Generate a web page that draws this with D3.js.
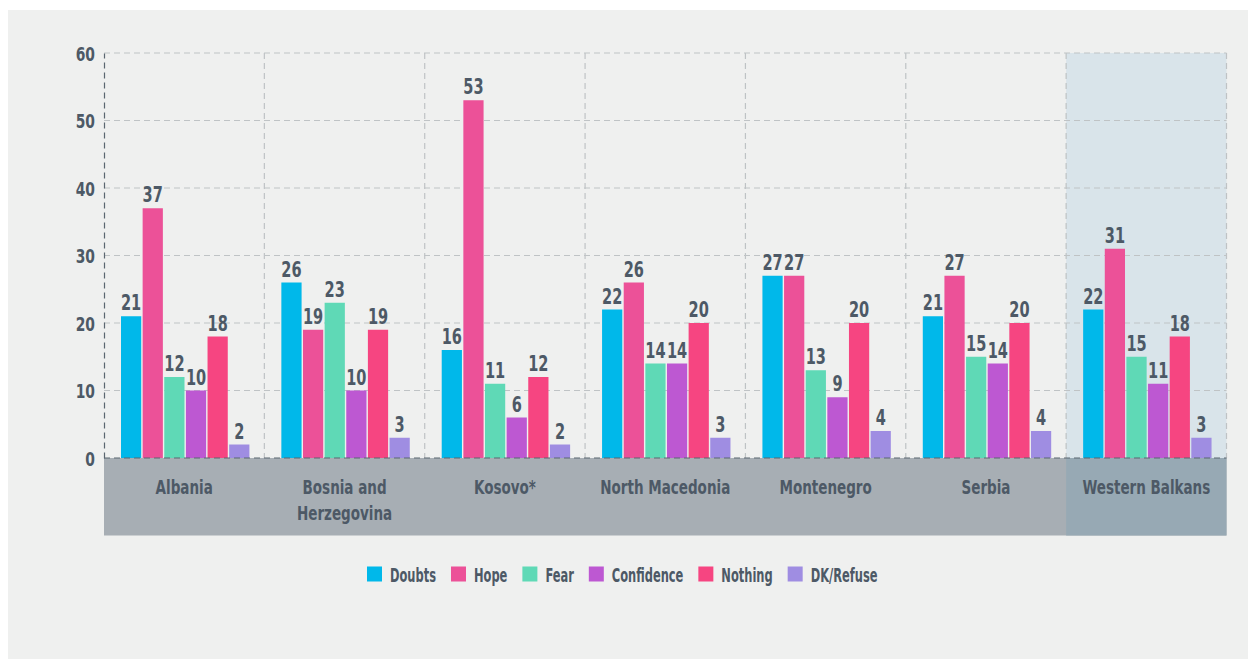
<!DOCTYPE html>
<html>
<head>
<meta charset="utf-8">
<script src="https://cdn.jsdelivr.net/npm/d3@7"></script>
<style>
  html, body { margin: 0; padding: 0; background: #ffffff; }
  svg { display: block; }
  text { font-family: "DejaVu Sans Condensed", "Liberation Sans Narrow", sans-serif; font-weight: bold; fill: #4d5966; }
</style>
</head>
<body>
<svg id="chart" width="1248" height="659"></svg>
<script>
const categories = ["Albania", "Bosnia and Herzegovina", "Kosovo*", "North Macedonia", "Montenegro", "Serbia", "Western Balkans"];
const seriesNames = ["Doubts", "Hope", "Fear", "Confidence", "Nothing", "DK/Refuse"];
const doubts     = [21, 26, 16, 22, 27, 21, 22];
const hope       = [37, 19, 53, 26, 27, 27, 31];
const fear       = [12, 23, 11, 14, 13, 15, 15];
const confidence = [10, 10, 6, 14, 9, 14, 11];
const nothing    = [18, 19, 12, 20, 20, 20, 18];
const dkRefuse   = [2, 3, 2, 3, 4, 4, 3];
const yTicks = [0, 10, 20, 30, 40, 50, 60];
const colors = ["#00b8ea", "#ec5198", "#5fd9b6", "#bd58d2", "#f64581", "#9f8de2"];

(function () {
const SX = 0.77;   // horizontal condensing of text to mimic a condensed face
const SXL = 0.67;  // legend condensing
const seriesValues = [doubts, hope, fear, confidence, nothing, dkRefuse];
const data = categories.map((c, i) => ({
  cat: c,
  values: seriesNames.map((s, j) => ({ key: s, value: seriesValues[j][i] }))
}));

const svg = d3.select("#chart");
const W = 1248, H = 659;
const pLeft = 104, pRight = 1226.5, pTop = 53, pBottom = 458, bandBottom = 535.5;

svg.append("rect").attr("x", 8).attr("y", 10).attr("width", W - 8).attr("height", H - 10).attr("fill", "#eff0ef");

const x0 = d3.scaleBand().domain(categories).range([pLeft, pRight]).padding(0);
const x1 = d3.scaleBand().domain(seriesNames).range([17, 17 + 128.4]).paddingInner(0.065);
const y = d3.scaleLinear().domain([0, 60]).range([pBottom, pTop]);

const last = categories[categories.length - 1];
svg.append("rect").attr("x", x0(last)).attr("y", pTop).attr("width", x0.bandwidth()).attr("height", pBottom - pTop).attr("fill", "#d9e4ea");

svg.append("rect").attr("x", pLeft).attr("y", pBottom).attr("width", pRight - pLeft).attr("height", bandBottom - pBottom).attr("fill", "#a7aeb4");
svg.append("rect").attr("x", x0(last)).attr("y", pBottom).attr("width", x0.bandwidth()).attr("height", bandBottom - pBottom).attr("fill", "#97a9b4");

const grid = svg.append("g");
grid.selectAll("line.h").data(yTicks.filter(t => t > 0)).enter().append("line")
  .attr("x1", pLeft).attr("x2", pRight).attr("y1", d => y(d)).attr("y2", d => y(d))
  .attr("stroke", "#bfc3c5").attr("stroke-width", 1.2).attr("stroke-dasharray", "6,4");
grid.selectAll("line.v").data(categories).enter().append("line")
  .attr("x1", d => x0(d) + x0.bandwidth()).attr("x2", d => x0(d) + x0.bandwidth())
  .attr("y1", pTop).attr("y2", pBottom)
  .attr("stroke", "#bfc3c5").attr("stroke-width", 1.2).attr("stroke-dasharray", "6,4");

const yAxis = d3.axisLeft(y).tickValues(yTicks).tickSize(0).tickPadding(9);
const ya = svg.append("g").attr("transform", `translate(${pLeft},0)`).call(yAxis);
ya.select(".domain").attr("stroke", "#5b6670").attr("stroke-width", 1.2).attr("stroke-dasharray", "6,4");
ya.selectAll("text").style("font-size", "20px").attr("fill", "#4d5966").attr("font-family", null)
  .attr("x", -9 / SX).attr("dy", "0.36em").attr("transform", `scale(${SX},1)`);

const groups = svg.append("g").selectAll("g").data(data).enter().append("g")
  .attr("transform", d => `translate(${x0(d.cat)},0)`);
groups.selectAll("rect").data(d => d.values).enter().append("rect")
  .attr("x", d => x1(d.key)).attr("width", x1.bandwidth())
  .attr("y", d => y(d.value)).attr("height", d => y(0) - y(d.value))
  .attr("fill", (d, i) => colors[i]);
groups.selectAll("text").data(d => d.values).enter().append("text")
  .attr("transform", d => `translate(${x1(d.key) + x1.bandwidth() / 2},${y(d.value) - 6}) scale(${SX},1)`)
  .attr("text-anchor", "middle").style("font-size", "21px").text(d => d.value);

svg.append("line").attr("x1", pLeft).attr("x2", pRight).attr("y1", pBottom).attr("y2", pBottom)
  .attr("stroke", "#5b6670").attr("stroke-width", 1.2).attr("stroke-dasharray", "6,4");

const catLines = { "Bosnia and Herzegovina": ["Bosnia and", "Herzegovina"] };
const cl = svg.append("g").selectAll("text").data(categories).enter().append("text")
  .attr("transform", d => `translate(${x0(d) + x0.bandwidth() / 2},494) scale(${SX},1)`)
  .attr("text-anchor", "middle").style("font-size", "19.5px");
cl.each(function(d) {
  const lines = catLines[d] || [d];
  const t = d3.select(this);
  lines.forEach((ln, i) => t.append("tspan").attr("x", 0).attr("dy", i === 0 ? 0 : 26).text(ln));
});

const legend = svg.append("g");
let lx = 367;
seriesNames.forEach((s, i) => {
  legend.append("rect").attr("x", lx).attr("y", 566.5).attr("width", 15).attr("height", 15).attr("fill", colors[i]);
  const t = legend.append("text").attr("transform", `translate(${lx + 23},581.5) scale(${SXL},1)`)
    .style("font-size", "19px").text(s);
  lx += 23 + t.node().getComputedTextLength() * SXL + 15;
});
})();
</script>
</body>
</html>
